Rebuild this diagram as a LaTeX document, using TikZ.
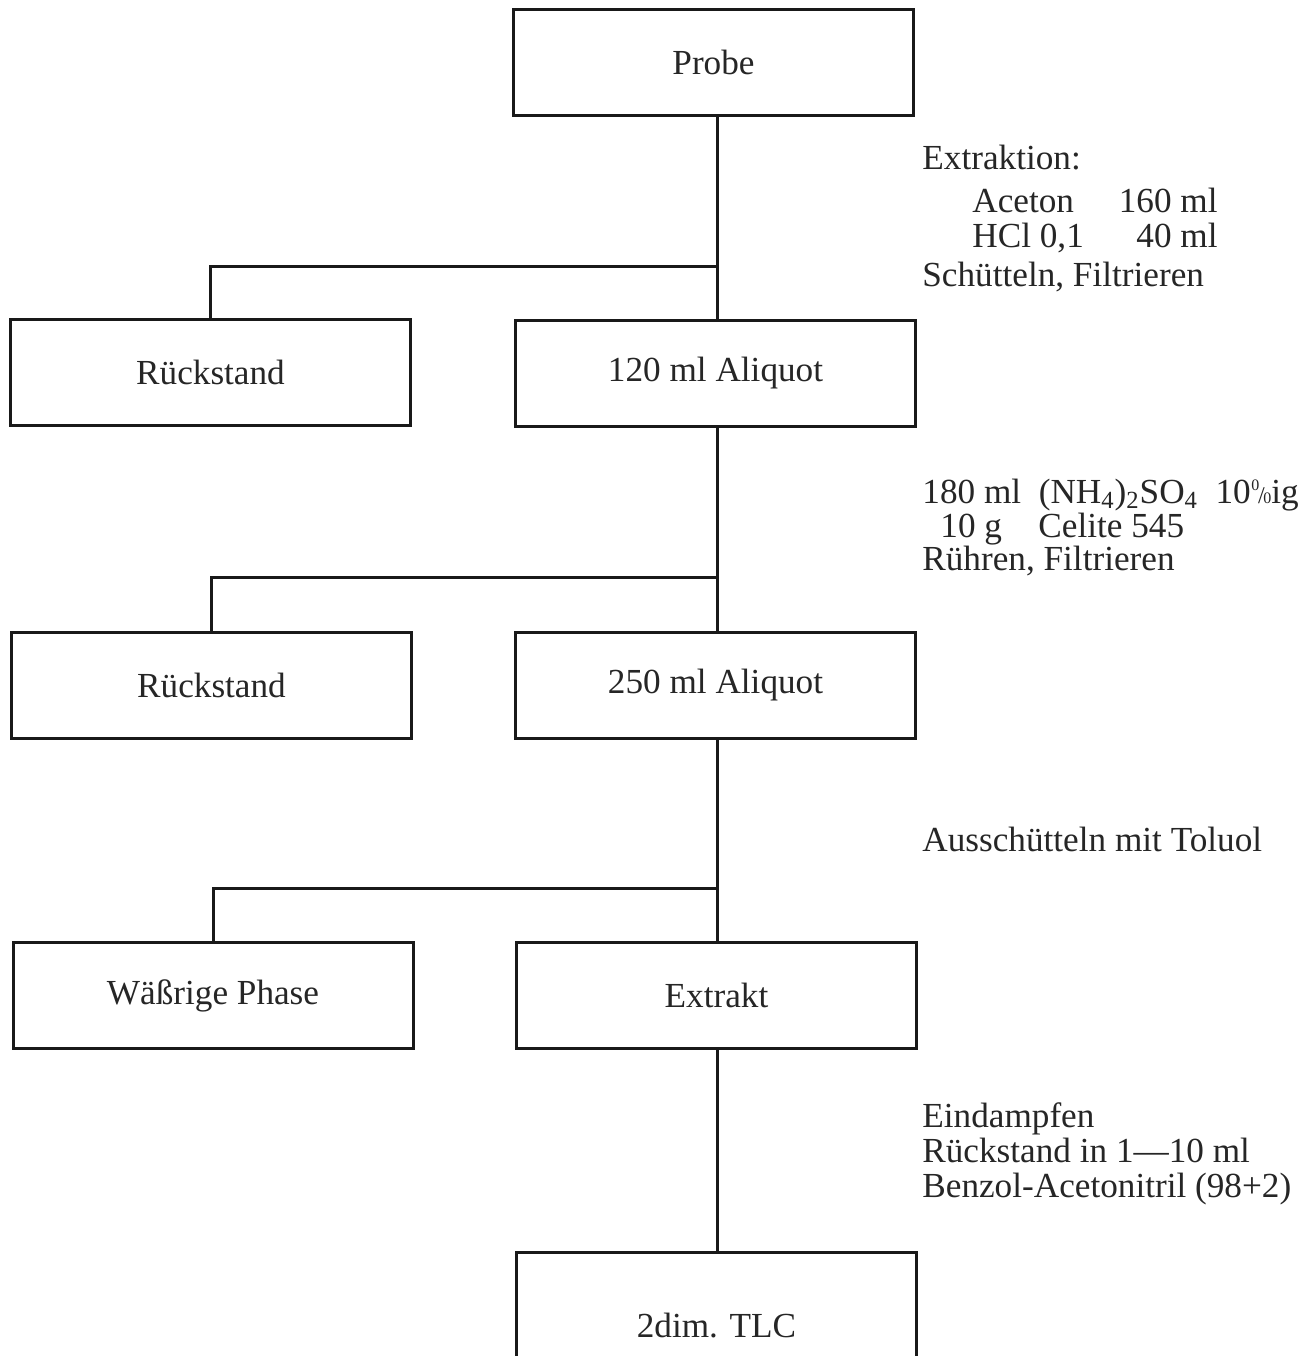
\documentclass[tikz,border=0pt]{standalone}
\usepackage{fontspec}
\setmainfont{Liberation Serif}
\begin{document}
\begin{tikzpicture}[x=0.5pt,y=-0.5pt,
  box/.style={draw=black!90, line width=1.5pt, minimum width=200pt, minimum height=53pt, inner sep=0pt, font=\fontsize{17.6}{20}\selectfont, text=black!85},
  conn/.style={draw=black!90, line width=1.5pt},
  note/.style={anchor=base west, inner sep=0pt, font=\fontsize{17.6}{20}\selectfont, text=black!85},
  noter/.style={anchor=base east, inner sep=0pt, font=\fontsize{17.6}{20}\selectfont, text=black!85}]
\useasboundingbox (0,0) rectangle (1311,1356);
\clip (0,0) rectangle (1311,1356);
\fill[white] (0,0) rectangle (1311,1356);

% boxes
\node[box] (probe) at (713.5,62.5) {Probe};
\node[box] (r1) at (210.5,372.5) {Rückstand};
\node[box] (a1) at (715.5,373.5) {120 ml Aliquot};
\node[box] (r2) at (211.5,685) {Rückstand};
\node[box] (a2) at (715.5,685) {250 ml Aliquot};
\node[box] (w3) at (213,995.5) {Wäßrige Phase};
\node[box] (e3) at (716.5,995.5) {Extrakt};
\node[box, minimum height=74pt] (tlc) at (716.5,1326) {2dim. TLC};

% junctions
\coordinate (j1) at (717,266);
\coordinate (j2) at (717,577);
\coordinate (j3) at (717,888);
\coordinate (j4) at (717,1150);

\draw[conn] (j1 |- probe.south) -- (j1 |- a1.north);
\draw[conn] (j1) -| (r1.north);
\draw[conn] (j2 |- a1.south) -- (j2 |- a2.north);
\draw[conn] (j2) -| (r2.north);
\draw[conn] (j3 |- a2.south) -- (j3 |- e3.north);
\draw[conn] (j3) -| (w3.north);
\draw[conn] (j4 |- e3.south) -- (j4 |- tlc.north);

% annotations
\node[note] (t1) at (922,169) {Extraktion:};
\node[note] (t2) at (972,212) {Aceton};
\node[noter] (t2b) at (1218,212) {160 ml};
\node[note] (t3) at (972,247) {HCl 0,1};
\node[noter] (t3b) at (1218,247) {40 ml};
\node[note] (t4) at (922,286) {Schütteln, Filtrieren};

\node[note] (u1) at (922,503) {180 ml\enspace(NH\textsubscript{4})\textsubscript{2}SO\textsubscript{4}\enspace 10\kern0.3pt\raisebox{0.75ex}{\fontsize{8}{8}\selectfont 0}\kern-0.6pt{\fontsize{12}{12}\selectfont /}\kern-0.8pt{\fontsize{8}{8}\selectfont 0}ig};
\node[note] (u2) at (940,537) {10 g};
\node[note] (u2b) at (1038,537) {Celite 545};
\node[note] (u3) at (922,570) {Rühren, Filtrieren};

\node[note] (v1) at (922,851) {Ausschütteln mit Toluol};

\node[note] (w1) at (922,1127) {Eindampfen};
\node[note] (w2) at (922,1162) {Rückstand in 1—10 ml};
\node[note] (w4) at (922,1197) {Benzol-Acetonitril (98+2)};
\end{tikzpicture}
\end{document}
